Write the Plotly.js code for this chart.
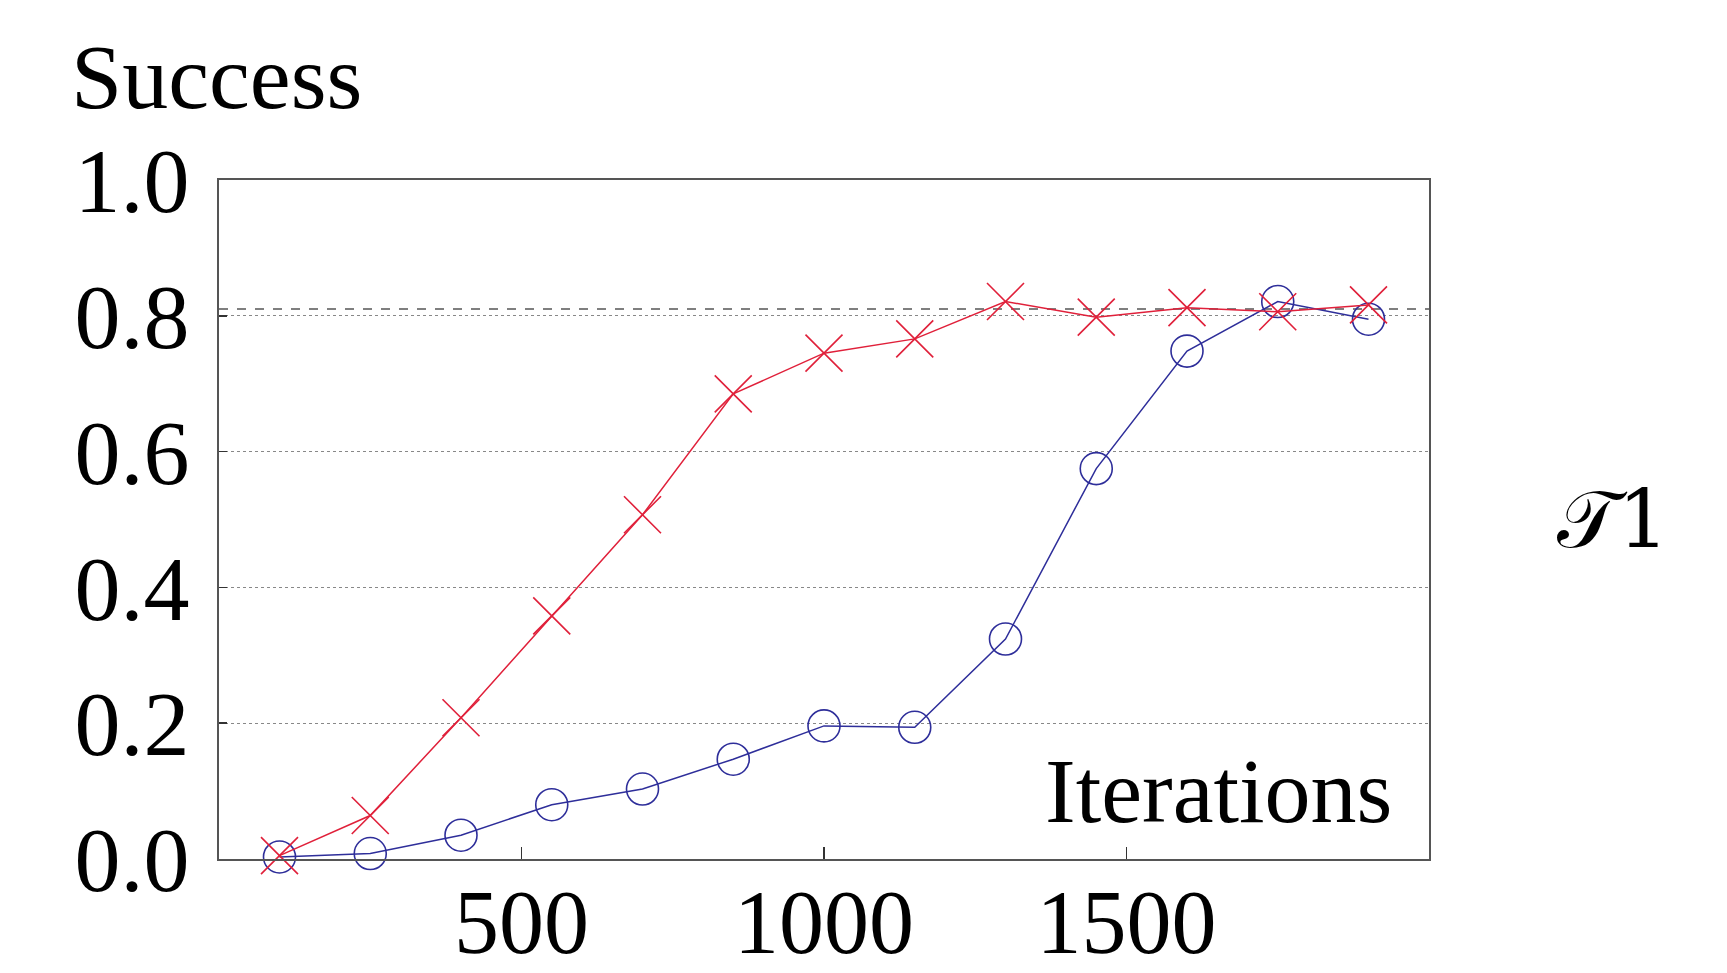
<!DOCTYPE html>
<html>
<head>
<meta charset="utf-8">
<script src="https://cdn.plot.ly/plotly-3.0.1.min.js"></script>
<style>html,body{margin:0;padding:0;background:#fff;}#chart{width:1727px;height:973px;}</style>
</head>
<body>
<div id="chart"></div>
<script>
// Data
const iterations = [100, 250, 400, 550, 700, 850, 1000, 1150, 1300, 1450, 1600, 1750, 1900];
const successRed = [0.005, 0.064, 0.208, 0.358, 0.507, 0.685, 0.745, 0.766, 0.821, 0.798, 0.812, 0.806, 0.816];
const successBlue = [0.003, 0.008, 0.035, 0.080, 0.103, 0.147, 0.196, 0.194, 0.324, 0.575, 0.748, 0.821, 0.795];
const referenceLevel = 0.81;
const xTicks = [500, 1000, 1500];
const yTicks = [0.0, 0.2, 0.4, 0.6, 0.8, 1.0];
const yTickLabels = ['0.0', '0.2', '0.4', '0.6', '0.8', '1.0'];

const serif = 'Liberation Serif, Times New Roman, serif';
const frameColor = '#555555';

const traces = [
  {
    x: iterations, y: successBlue, type: 'scatter', mode: 'lines+markers',
    line: {color: '#2e2e9a', width: 1.5},
    marker: {symbol: 'circle-open', size: 32, color: '#2e2e9a', line: {width: 1.6, color: '#2e2e9a'}},
    showlegend: false, cliponaxis: false
  },
  {
    x: iterations, y: successRed, type: 'scatter', mode: 'lines+markers',
    line: {color: '#e0203a', width: 1.5},
    marker: {symbol: 'x-thin-open', size: 37, color: '#e0203a', line: {width: 1.6, color: '#e0203a'}},
    showlegend: false, cliponaxis: false
  }
];

const layout = {
  width: 1727, height: 973,
  paper_bgcolor: '#ffffff', plot_bgcolor: '#ffffff',
  margin: {l: 219, r: 298, t: 180, b: 114, pad: 0},
  font: {family: serif, color: '#000000', size: 92},
  xaxis: {
    range: [0, 2000], tickvals: xTicks, ticktext: xTicks.map(String),
    ticks: 'inside', ticklen: 12, tickwidth: 1.5, tickcolor: '#333333',
    showgrid: false, zeroline: false,
    showline: true, linecolor: frameColor, linewidth: 2, mirror: true,
    tickfont: {family: serif, size: 90, color: '#000'},
    ticklabelstandoff: -16
  },
  yaxis: {
    range: [0, 1], tickvals: yTicks, ticktext: yTickLabels,
    ticks: 'inside', ticklen: 8, tickwidth: 1.5, tickcolor: '#333333',
    showgrid: true, gridcolor: '#888888', griddash: 'dot', gridwidth: 1,
    zeroline: false,
    showline: true, linecolor: frameColor, linewidth: 2, mirror: true,
    tickfont: {family: serif, size: 92, color: '#000'},
    ticklabelstandoff: 9
  },
  shapes: [
    {type: 'line', xref: 'paper', x0: 0, x1: 1, yref: 'y', y0: referenceLevel, y1: referenceLevel,
     line: {color: '#555555', width: 1.5, dash: 'dash'}, layer: 'below'}
  ],
  annotations: [
    {text: 'Success', xref: 'paper', yref: 'paper', x: -0.124, y: 1.152, xanchor: 'left', yanchor: 'middle',
     showarrow: false, font: {family: serif, size: 92, color: '#000'}},
    {text: 'Iterations', xref: 'paper', yref: 'paper', x: 0.971, y: 0.1, xanchor: 'right', yanchor: 'middle',
     showarrow: false, font: {family: serif, size: 92, color: '#000'}},
    {text: '𝒯1', xref: 'paper', yref: 'paper', x: 1.152, y: 0.5, xanchor: 'center', yanchor: 'middle',
     showarrow: false, font: {family: 'DejaVu Serif, Liberation Serif, serif', size: 80, color: '#000'}}
  ]
};

Plotly.newPlot('chart', traces, layout, {displayModeBar: false, staticPlot: true});
</script>
</body>
</html>
